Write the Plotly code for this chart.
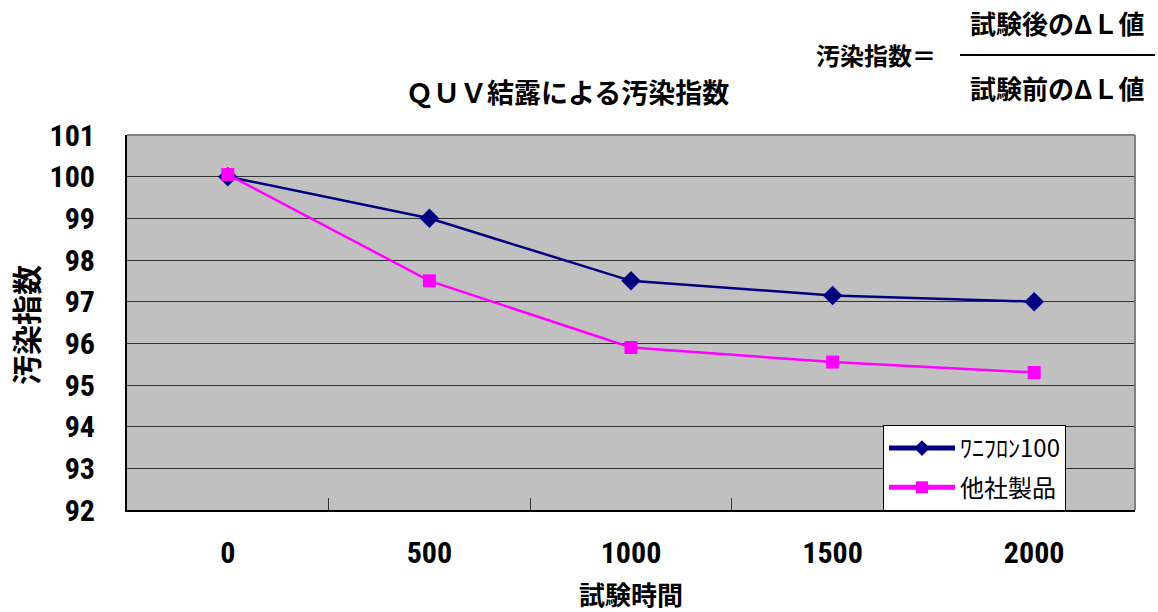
import plotly.graph_objects as go

categories = ["0", "500", "1000", "1500", "2000"]
wanifron = [100.0, 99.0, 97.5, 97.15, 97.0]
other = [100.05, 97.5, 95.9, 95.55, 95.3]
series_names = ["ﾜﾆﾌﾛﾝ100", "他社製品"]
y_ticks = [92, 93, 94, 95, 96, 97, 98, 99, 100, 101]

CJK = "Noto Sans CJK JP"
NUM = "Roboto Condensed, Liberation Sans Narrow, DejaVu Sans Condensed, Roboto, sans-serif"

L, R, T, B = 127, 23, 135, 102
W, H = 1158, 612
PW, PH = W - L - R, H - T - B

def px(x):
    return (x - L) / PW

def py(y):
    return (H - B - y) / PH

fig = go.Figure()
fig.add_trace(go.Scatter(
    x=categories, y=wanifron, name=series_names[0], mode="lines+markers",
    legendgroup="a",
    line=dict(color="#000080", width=2.5),
    marker=dict(symbol="diamond", size=15, color="#000080"),
))
fig.add_trace(go.Scatter(
    x=categories, y=other, name=series_names[1], mode="lines+markers",
    legendgroup="b",
    line=dict(color="#FF00FF", width=2.5),
    marker=dict(symbol="square", size=13, color="#FF00FF"),
))

fig.update_layout(
    width=W, height=H,
    margin=dict(l=L, r=R, t=T, b=B, autoexpand=False),
    paper_bgcolor="white",
    plot_bgcolor="#C0C0C0",
    showlegend=True,
    legend=dict(
        x=px(883), y=py(425), xanchor="left", yanchor="top",
        bgcolor="white", bordercolor="black", borderwidth=1,
        font=dict(family=CJK, size=24, color="black"),
        tracegroupgap=5, itemsizing="constant", itemwidth=66,
    ),
    xaxis=dict(
        type="category", range=[-0.5, 4.5],
        showgrid=False, zeroline=False,
        showline=True, linecolor="black", linewidth=2,
        ticks="inside", ticklen=12, tickcolor="#333333", tickwidth=1,
        tickson="boundaries",
        ticklabelstandoff=15,
        tickfont=dict(family=NUM, size=30, color="black", weight="bold"),
    ),
    yaxis=dict(
        range=[92, 101], tickvals=y_ticks, ticktext=[str(v) for v in y_ticks],
        showgrid=True, gridcolor="#333333", gridwidth=1, zeroline=False,
        showline=True, linecolor="black", linewidth=2,
        ticks="outside", ticklen=24, tickcolor="rgba(0,0,0,0)",
        tickfont=dict(family=NUM, size=30, color="black", weight="bold"),
    ),
)

# plot border (top/right grey)
fig.add_shape(type="line", xref="paper", yref="paper", x0=0, x1=1, y0=1, y1=1,
              line=dict(color="#808080", width=2))
fig.add_shape(type="line", xref="paper", yref="paper", x0=1, x1=1, y0=0, y1=1,
              line=dict(color="#808080", width=2))

# title
fig.add_annotation(text="ＱＵＶ結露による汚染指数", xref="paper", yref="paper",
                   x=px(567), y=py(91), showarrow=False, xanchor="center", yanchor="middle",
                   font=dict(family=CJK, size=27, color="black", weight="bold"))
# axis titles
fig.add_annotation(text="試験時間", xref="paper", yref="paper",
                   x=px(631), y=py(593), showarrow=False, xanchor="center", yanchor="middle",
                   borderpad=0,
                   font=dict(family=CJK, size=26, color="black", weight="bold"))
fig.add_annotation(text="汚染指数", xref="paper", yref="paper",
                   x=px(25), y=py(325), showarrow=False, xanchor="center", yanchor="middle",
                   textangle=-90,
                   font=dict(family=CJK, size=30, color="black", weight="bold"))
# formula
fig.add_annotation(text="汚染指数＝", xref="paper", yref="paper",
                   x=px(876), y=py(55), showarrow=False, xanchor="center", yanchor="middle",
                   font=dict(family=CJK, size=24, color="black", weight="bold"))
fig.add_annotation(text="試験後のΔＬ値", xref="paper", yref="paper",
                   x=px(1057), y=py(22), showarrow=False, xanchor="center", yanchor="middle",
                   font=dict(family=CJK, size=26, color="black", weight="bold"))
fig.add_annotation(text="試験前のΔＬ値", xref="paper", yref="paper",
                   x=px(1057), y=py(87), showarrow=False, xanchor="center", yanchor="middle",
                   font=dict(family=CJK, size=26, color="black", weight="bold"))
fig.add_shape(type="line", xref="paper", yref="paper", x0=px(960), x1=px(1155),
              y0=py(55), y1=py(55), line=dict(color="black", width=2))

fig.write_html("out.html", config={"displayModeBar": False},
               post_script="document.body.style.margin='0';")
